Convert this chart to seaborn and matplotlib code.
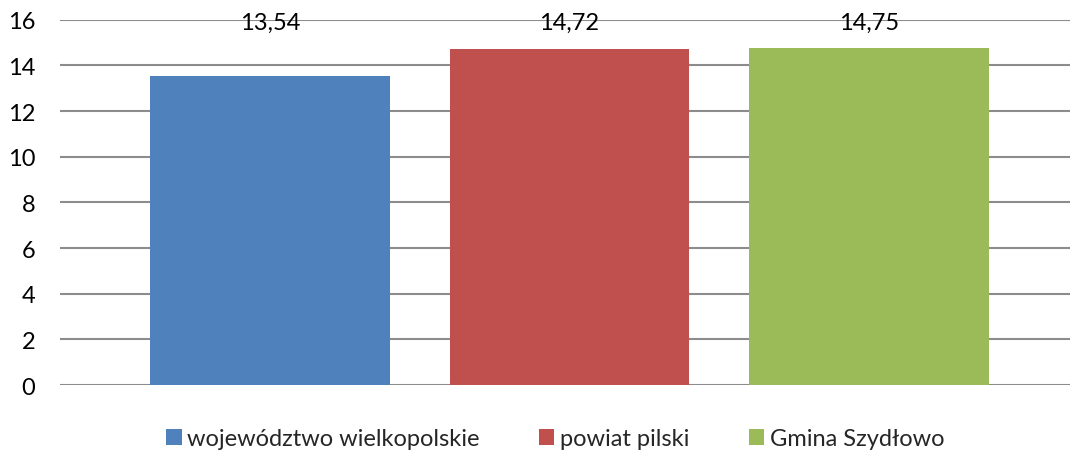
import matplotlib
matplotlib.use("Agg")
import matplotlib.pyplot as plt
import seaborn as sns
import pandas as pd
from matplotlib.patches import Patch

categories = ["województwo wielkopolskie", "powiat pilski", "Gmina Szydłowo"]
values = [13.54, 14.72, 14.75]
colors = ["#4F81BD", "#C0504D", "#9BBB59"]
yticks = [0, 2, 4, 6, 8, 10, 12, 14, 16]

sns.set_theme(style="white")
plt.rcParams["font.family"] = ["Lato", "DejaVu Sans"]

df = pd.DataFrame({"cat": categories, "val": values})

fig = plt.figure(figsize=(10.72, 4.52), dpi=100)
ax = fig.add_axes([0.056, 0.146, 0.942, 0.808])

sns.barplot(data=df, x="cat", y="val", hue="cat", palette=colors,
            width=0.8, dodge=False, saturation=1, legend=False, ax=ax,
            linewidth=0, edgecolor="none", zorder=3)

ax.set_ylim(0, 16)
ax.set_yticks(yticks)
ax.set_yticklabels([str(t) for t in yticks], fontsize=17, color="#000000")
ax.set_xlim(-0.7, 2.67)
ax.set_xticks([])
ax.set_xlabel("")
ax.set_ylabel("")
ax.yaxis.grid(True, color="#8C8C8C", linewidth=1.5, zorder=0)
ax.set_axisbelow(True)
for s in ax.spines.values():
    s.set_visible(False)
ax.tick_params(axis="y", length=0, pad=18)

for i, v in enumerate(values):
    ax.text(i, 15.9, f"{v:.2f}".replace(".", ","), ha="center", va="center",
            fontsize=17, color="#000000")

handles = [Patch(facecolor=c, edgecolor="none") for c in colors]
fig.legend(handles, categories, loc="center", bbox_to_anchor=(0.518, 0.027),
           ncol=3, frameon=False, fontsize=17, handlelength=0.65, handleheight=0.65,
           handletextpad=0.25, columnspacing=2.5)

fig.savefig("out.png", dpi=100)
